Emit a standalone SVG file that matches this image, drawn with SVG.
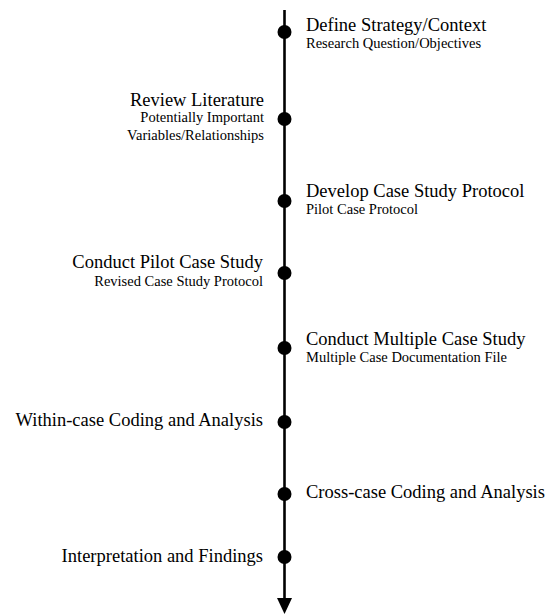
<svg xmlns="http://www.w3.org/2000/svg" width="555" height="614" viewBox="0 0 555 614">
<style>
.t{font-family:"Liberation Serif","Times New Roman",serif;font-size:18.5px;fill:#000}
.s{font-family:"Liberation Serif","Times New Roman",serif;font-size:14.5px;fill:#000}
.l{text-anchor:start}
.r{text-anchor:end}
.dot{fill:#000}
</style>
<rect width="555" height="614" fill="#fff"/>
<g id="connectors">
<line x1="284.5" y1="10" x2="284.5" y2="600" stroke="#000" stroke-width="2.6"/>
<polygon points="277,598 292,598 284.5,614" fill="#000"/>
</g>
<g id="n1"><circle class="dot" cx="284.5" cy="32" r="7"/><text class="t l" x="306" y="31">Define Strategy/Context</text><text class="s l" x="306" y="48">Research Question/Objectives</text></g>
<g id="n2"><circle class="dot" cx="284.5" cy="119" r="7"/><text class="t r" x="264" y="106">Review Literature</text><text class="s r" x="264" y="122">Potentially Important</text><text class="s r" x="264" y="140">Variables/Relationships</text></g>
<g id="n3"><circle class="dot" cx="284.5" cy="201" r="7"/><text class="t l" x="306" y="197">Develop Case Study Protocol</text><text class="s l" x="306" y="214">Pilot Case Protocol</text></g>
<g id="n4"><circle class="dot" cx="284.5" cy="273" r="7"/><text class="t r" x="263" y="268">Conduct Pilot Case Study</text><text class="s r" x="263" y="286">Revised Case Study Protocol</text></g>
<g id="n5"><circle class="dot" cx="284.5" cy="348" r="7"/><text class="t l" x="306" y="345">Conduct Multiple Case Study</text><text class="s l" x="306" y="362">Multiple Case Documentation File</text></g>
<g id="n6"><circle class="dot" cx="284.5" cy="422" r="7"/><text class="t r" x="263" y="426">Within-case Coding and Analysis</text></g>
<g id="n7"><circle class="dot" cx="284.5" cy="494" r="7"/><text class="t l" x="306" y="498">Cross-case Coding and Analysis</text></g>
<g id="n8"><circle class="dot" cx="284.5" cy="557" r="7"/><text class="t r" x="263" y="562">Interpretation and Findings</text></g>
</svg>
